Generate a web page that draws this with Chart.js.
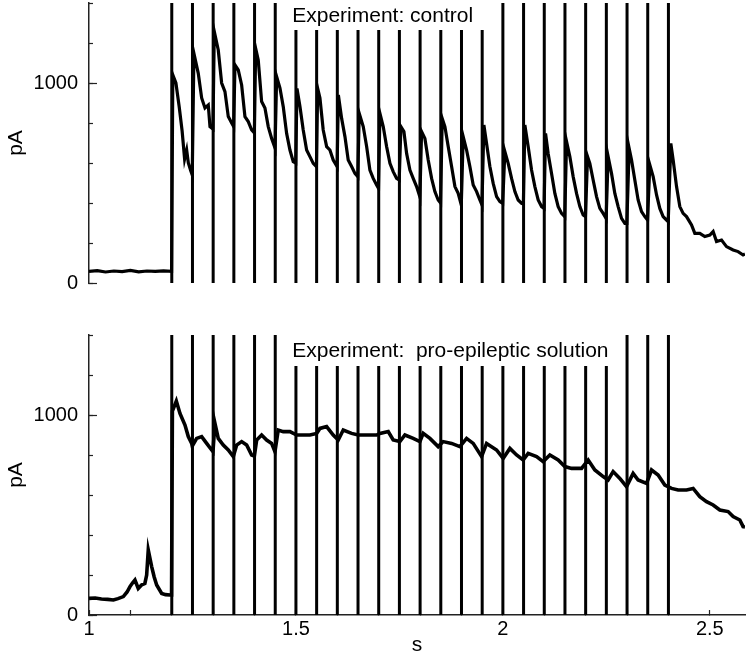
<!DOCTYPE html>
<html>
<head>
<meta charset="utf-8">
<script src="https://cdn.jsdelivr.net/npm/chart.js@4"></script>
<style>
  body { margin: 0; background: #fff; }
  canvas { position: absolute; left: 0; }
  #control { top: 0; }
  #epileptic { top: 300px; }
</style>
</head>
<body>
<canvas id="control" width="748" height="300"></canvas>
<canvas id="epileptic" width="748" height="362"></canvas>
<script>
// stimulus times (s)
var stimTimes = [1.2, 1.25, 1.3, 1.35, 1.4, 1.45, 1.5, 1.55, 1.6, 1.65, 1.7, 1.75, 1.8,
  1.85, 1.9, 1.95, 2.0, 2.05, 2.1, 2.15, 2.2, 2.25, 2.3, 2.35, 2.4];

// tick labels
var xTickLabels = [1, 1.5, 2, 2.5];
var yTickLabels = [0, 1000];

// control recording (s, pA)
var controlTime = [
  1.0, 1.02, 1.04, 1.06, 1.08, 1.1, 1.12, 1.14, 1.16, 1.18, 1.1995,
  1.2025, 1.21, 1.218, 1.225, 1.231, 1.236, 1.24, 1.246, 1.2495,
  1.2535, 1.264, 1.2722, 1.2802, 1.2882, 1.2923, 1.2995,
  1.3027, 1.3123, 1.3205, 1.3285, 1.3365, 1.3447, 1.3495,
  1.3527, 1.3606, 1.3688, 1.3768, 1.3848, 1.393, 1.3995,
  1.4027, 1.4089, 1.4171, 1.4251, 1.4331, 1.4413, 1.4495,
  1.4534, 1.4614, 1.4693, 1.4775, 1.4855, 1.4935, 1.4995,
  1.5025, 1.5097, 1.5176, 1.5258, 1.5338, 1.5418, 1.5495,
  1.5525, 1.558, 1.5659, 1.5742, 1.5821, 1.5901, 1.5995,
  1.6025, 1.6104, 1.6184, 1.6263, 1.6345, 1.6425, 1.6495,
  1.6529, 1.6626, 1.6708, 1.6787, 1.6867, 1.6949, 1.6995,
  1.7029, 1.7109, 1.7191, 1.7271, 1.735, 1.7432, 1.7495,
  1.7536, 1.7609, 1.7674, 1.7754, 1.7833, 1.7915, 1.7995,
  1.8036, 1.8116, 1.8196, 1.8278, 1.8357, 1.8437, 1.8495,
  1.8534, 1.8599, 1.8679, 1.8761, 1.8841, 1.892, 1.8995,
  1.9041, 1.9123, 1.9203, 1.9283, 1.9365, 1.9444, 1.9495,
  1.9541, 1.9606, 1.9686, 1.9766, 1.9848, 1.9928, 1.9995,
  2.0048, 2.0128, 2.021, 2.029, 2.037, 2.0452, 2.0495,
  2.0531, 2.0611, 2.0693, 2.0773, 2.0853, 2.0935, 2.0995,
  2.1031, 2.1094, 2.1176, 2.1256, 2.1336, 2.1418, 2.1495,
  2.1539, 2.1618, 2.1698, 2.178, 2.186, 2.194, 2.1995,
  2.2046, 2.2101, 2.2181, 2.2263, 2.2343, 2.2423, 2.2495,
  2.2543, 2.2625, 2.2705, 2.2785, 2.2867, 2.2947, 2.2995,
  2.3051, 2.3109, 2.3188, 2.3268, 2.335, 2.343, 2.3495,
  2.3551, 2.3631, 2.3713, 2.3792, 2.3872, 2.3954, 2.3995,
  2.4058, 2.4114, 2.4196, 2.4275, 2.4355, 2.4437, 2.4558, 2.4638, 2.4758, 2.4879,
  2.5, 2.508, 2.5162, 2.5283, 2.5403, 2.5563, 2.5684, 2.5804, 2.585
];
var controlCurrent = [
  58, 62, 55, 60, 57, 63, 56, 60, 58, 61, 58,
  1040, 1000, 880, 760, 620, 665, 600, 560, 540,
  1148, 1048, 925, 875, 890, 782, 770,
  1258, 1165, 1000, 957, 832, 800, 782,
  1090, 1065, 990, 832, 807, 765, 750,
  1173, 1115, 907, 875, 782, 723, 675,
  1032, 975, 882, 748, 665, 607, 600,
  973, 882, 765, 665, 632, 598, 582,
  973, 925, 765, 682, 665, 615, 582,
  940, 823, 732, 615, 582, 548, 532,
  848, 782, 682, 565, 523, 490, 473,
  848, 782, 682, 598, 557, 523, 515,
  782, 757, 648, 565, 523, 482, 430,
  757, 723, 615, 523, 457, 415, 400,
  823, 782, 682, 582, 482, 448, 390,
  732, 665, 582, 490, 457, 415, 390,
  790, 698, 582, 498, 432, 407, 398,
  657, 598, 523, 457, 415, 398, 395,
  790, 682, 565, 482, 415, 382, 373,
  748, 648, 548, 448, 382, 348, 332,
  707, 632, 532, 448, 382, 340, 332,
  632, 598, 515, 432, 373, 348, 323,
  632, 548, 448, 382, 323, 298, 298,
  673, 615, 515, 415, 357, 332, 315,
  590, 532, 440, 373, 332, 315, 307,
  698, 615, 482, 382, 348, 332, 290, 248, 248, 232,
  240, 257, 207, 215, 182, 165, 157, 140, 145
];

// pro-epileptic solution recording (s, pA)
var proTime = [
  1.0, 1.015, 1.03, 1.045, 1.059, 1.07, 1.083, 1.092, 1.099, 1.105, 1.111, 1.119,
  1.127, 1.135, 1.1393, 1.1432, 1.1514, 1.1575, 1.1635, 1.1756, 1.185, 1.1957, 1.1995,
  1.2015, 1.211, 1.2198, 1.2319, 1.2399, 1.2481, 1.2495,
  1.2601, 1.2722, 1.2843, 1.2964, 1.2995,
  1.3043, 1.3123, 1.3244, 1.3365, 1.3486,
  1.3568, 1.3688, 1.3809, 1.393, 1.3995,
  1.4051, 1.4171, 1.4292, 1.4413, 1.4493,
  1.4572, 1.4693, 1.4855, 1.5017, 1.5097, 1.5338, 1.55, 1.558, 1.5741, 1.5901,
  1.6022, 1.6143, 1.6345, 1.6505, 1.6708, 1.6949, 1.7029, 1.723, 1.735, 1.7512,
  1.7633, 1.7833, 1.7995, 1.8075, 1.8237, 1.8437, 1.8558, 1.8761, 1.8961, 1.9123,
  1.9283, 1.9486, 1.9606, 1.9848, 2.0007, 2.0169, 2.0331, 2.049, 2.0611, 2.0814,
  2.0973, 2.1135, 2.1336, 2.1498, 2.1659, 2.1901, 2.2061, 2.2222, 2.2423, 2.2543,
  2.2664, 2.2826, 2.2988, 2.3147, 2.3268, 2.3471, 2.3592, 2.3751, 2.3913, 2.4075,
  2.4234, 2.4437, 2.4597, 2.4758, 2.492, 2.508, 2.5242, 2.5442, 2.5563, 2.5725,
  2.5804, 2.585
];
var proCurrent = [
  83, 85, 80, 78, 75, 82, 92, 115, 142, 160, 175, 133,
  150, 158, 200, 325, 242, 190, 150, 108, 102, 100, 100,
  1020, 1070, 1008, 950, 892, 858, 845,
  883, 892, 858, 825, 817,
  958, 883, 850, 825, 792,
  850, 867, 850, 800, 795,
  875, 900, 875, 858, 817,
  925, 917, 917, 900, 900, 900, 908, 933, 942, 900,
  875, 925, 908, 900, 900, 900, 908, 917, 875, 867,
  900, 883, 867, 908, 883, 842, 867, 858, 842, 883,
  858, 792, 858, 825, 783, 833, 800, 775, 808, 792,
  767, 800, 775, 742, 733, 733, 775, 725, 692, 675,
  717, 683, 642, 708, 675, 658, 725, 700, 650, 633,
  625, 625, 633, 592, 567, 550, 525, 517, 492, 475,
  442, 440
];

var X_MIN = 1, X_MAX = 2.585, Y_MAX = 1400;
var FONT = "'Liberation Sans', Arial, Helvetica, sans-serif";

Chart.defaults.font.family = FONT;
Chart.defaults.color = "#000";

function toPoints(t, v) {
  return t.map(function (x, i) { return { x: x, y: v[i] }; });
}

// vertical stimulus marks; those under the panel label stop short of it
function stimPoints(labelFrom, labelTo, shortTop) {
  var pts = [];
  stimTimes.forEach(function (t) {
    var top = (t >= labelFrom && t <= labelTo) ? shortTop : Y_MAX;
    pts.push({ x: t, y: 0 }, { x: t, y: top }, { x: t, y: null });
  });
  return pts;
}

function isIn(list, v) {
  return list.some(function (l) { return Math.abs(l - v) < 1e-6; });
}

var panelLabel = {
  id: "panelLabel",
  afterDatasetsDraw: function (chart, args, opts) {
    var ctx = chart.ctx;
    ctx.save();
    ctx.font = "21px " + FONT;
    ctx.fillStyle = "#000";
    ctx.textBaseline = "alphabetic";
    ctx.fillText(opts.text, chart.scales.x.getPixelForValue(opts.x),
      chart.scales.y.getPixelForValue(opts.y));
    ctx.restore();
  }
};

function makePanel(id, time, current, traceWidth, label, labelTo, shortTop, labelY, showX, padding) {
  var ctx = document.getElementById(id).getContext("2d");
  return new Chart(ctx, {
    type: "line",
    data: {
      datasets: [
        {
          data: toPoints(time, current),
          borderColor: "#000",
          borderWidth: traceWidth,
          pointRadius: 0,
          tension: 0,
        },
        {
          data: stimPoints(1.49, labelTo, shortTop),
          borderColor: "#000",
          borderWidth: 3,
          pointRadius: 0,
          spanGaps: false,
        },
      ],
    },
    plugins: [panelLabel],
    options: {
      responsive: false,
      animation: false,
      events: [],
      layout: { padding: padding },
      plugins: {
        legend: { display: false },
        tooltip: { enabled: false },
        panelLabel: { text: label, x: 1.491, y: labelY },
      },
      scales: {
        x: {
          type: "linear",
          min: X_MIN,
          max: X_MAX,
          display: showX,
          border: { color: "#222", width: 1.5 },
          grid: { drawOnChartArea: false, tickLength: -5, tickColor: "#222", tickWidth: 1.2 },
          ticks: {
            stepSize: 0.1,
            autoSkip: false,
            includeBounds: false,
            maxRotation: 0,
            padding: 7.5,
            font: { size: 20 },
            callback: function (v) { return isIn(xTickLabels, v) ? String(v) : ""; },
          },
          title: { display: true, text: "s", font: { size: 21 }, padding: { top: 0, bottom: 4 } },
          afterFit: function (s) { s.height = showX ? 47 : 0; },
        },
        y: {
          type: "linear",
          position: "left",
          weight: 1,
          min: 0,
          max: Y_MAX,
          border: { color: "#222", width: 1.5 },
          grid: { drawOnChartArea: false, tickLength: -8, tickColor: "#222", tickWidth: 1.2 },
          ticks: {
            padding: 19,
            font: { size: 20 },
            callback: function (v) { return String(v); },
          },
          afterBuildTicks: function (s) {
            s.ticks = yTickLabels.map(function (v) { return { value: v }; });
          },
          title: { display: true, text: "pA", font: { size: 21 }, padding: { top: 3.5, bottom: 0 } },
          afterFit: function (s) {
            s.width = 89;
            s.paddingTop = 0;
            s.paddingBottom = 0;
          },
        },
        yMinor: {
          type: "linear",
          position: "left",
          weight: 0,
          min: 0,
          max: Y_MAX,
          border: { display: false },
          grid: { drawOnChartArea: false, tickLength: -4, tickColor: "#222", tickWidth: 1.2 },
          ticks: { display: false, stepSize: 200 },
          afterFit: function (s) { s.width = 0; },
        },
      },
    },
  });
}

// Control panel
makePanel("control", controlTime, controlCurrent, 3.2, "Experiment: control",
  1.96, 1265, 1306, false, { left: 0, right: 3, top: 3, bottom: 17 });

// Pro-epileptic panel
makePanel("epileptic", proTime, proCurrent, 3.6, "Experiment:  pro-epileptic solution",
  2.26, 1245, 1291, true, { left: 0, right: 3, top: 35, bottom: 0 });
</script>
</body>
</html>
